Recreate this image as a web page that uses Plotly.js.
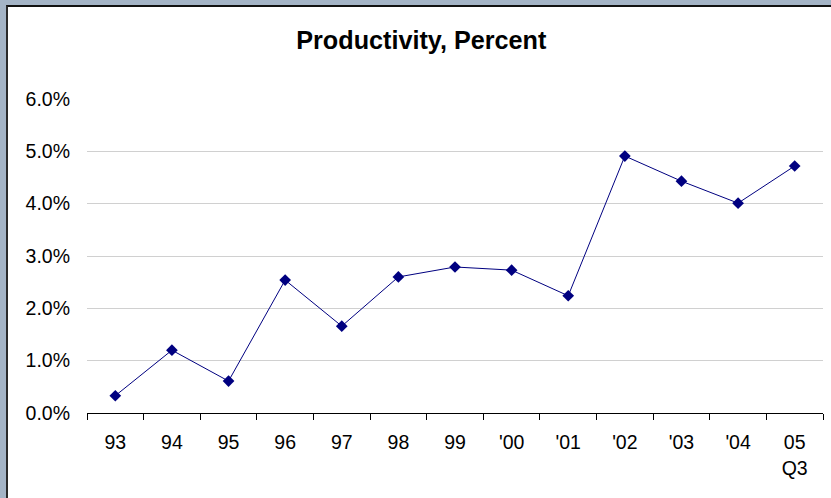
<!DOCTYPE html>
<html><head><meta charset="utf-8">
<script src="https://cdn.plot.ly/plotly-3.0.1.min.js"></script>
<style>
html,body{margin:0;padding:0;}
body{width:831px;height:498px;background:#a4b4c6;position:relative;overflow:hidden;}
#frame{position:absolute;left:6px;top:5px;width:825px;height:493px;background:#fff;border-top:2px solid #111;border-left:2px solid #2a2a2a;box-sizing:border-box;}
#chart{position:absolute;left:0;top:0;width:831px;height:498px;}
</style></head>
<body>
<div id="frame"></div>
<div id="chart"></div>
<script>
var categories = ["93","94","95","96","97","98","99","'00","'01","'02","'03","'04","05<br>Q3"];
var productivity = [0.33, 1.20, 0.61, 2.54, 1.66, 2.60, 2.79, 2.73, 2.24, 4.91, 4.43, 4.01, 4.72];
var yTicks = [0,1,2,3,4,5,6];
var yTickLabels = ["0.0%","1.0%","2.0%","3.0%","4.0%","5.0%","6.0%"];

var trace = {
  x: categories, y: productivity, type: 'scatter', mode: 'lines+markers',
  line: {color: '#000080', width: 1},
  marker: {symbol: 'diamond', color: '#000080', size: 9}
};
var layout = {
  width: 831, height: 498,
  paper_bgcolor: 'rgba(0,0,0,0)', plot_bgcolor: 'rgba(0,0,0,0)',
  margin: {l: 87, r: 8, t: 99, b: 85},
  showlegend: false,
  title: {text: '<b>Productivity, Percent</b>', x: 0.507, xanchor: 'center', y: 0.92, yanchor: 'middle',
          font: {family: 'Arial, Liberation Sans, sans-serif', size: 25.2, color: '#000'}},
  font: {family: 'Arial, Liberation Sans, sans-serif', size: 19.5, color: '#000'},
  xaxis: {type: 'category', range: [-0.5, 12.5], showgrid: false, zeroline: false,
          showline: true, linecolor: '#000', linewidth: 1,
          ticks: 'outside', ticklen: 6, tickcolor: '#000', tickson: 'boundaries',
          tickfont: {size: 19.5}, ticklabelstandoff: 12},
  yaxis: {range: [0, 6], tickvals: yTicks, ticktext: yTickLabels, showgrid: true,
          gridcolor: '#d0d0d0', gridwidth: 1, zeroline: false, showline: false, ticks: '',
          tickfont: {size: 19.5}, ticklabelstandoff: 16}
};
Plotly.newPlot('chart', [trace], layout, {staticPlot: true, displayModeBar: false});
</script>
</body></html>
